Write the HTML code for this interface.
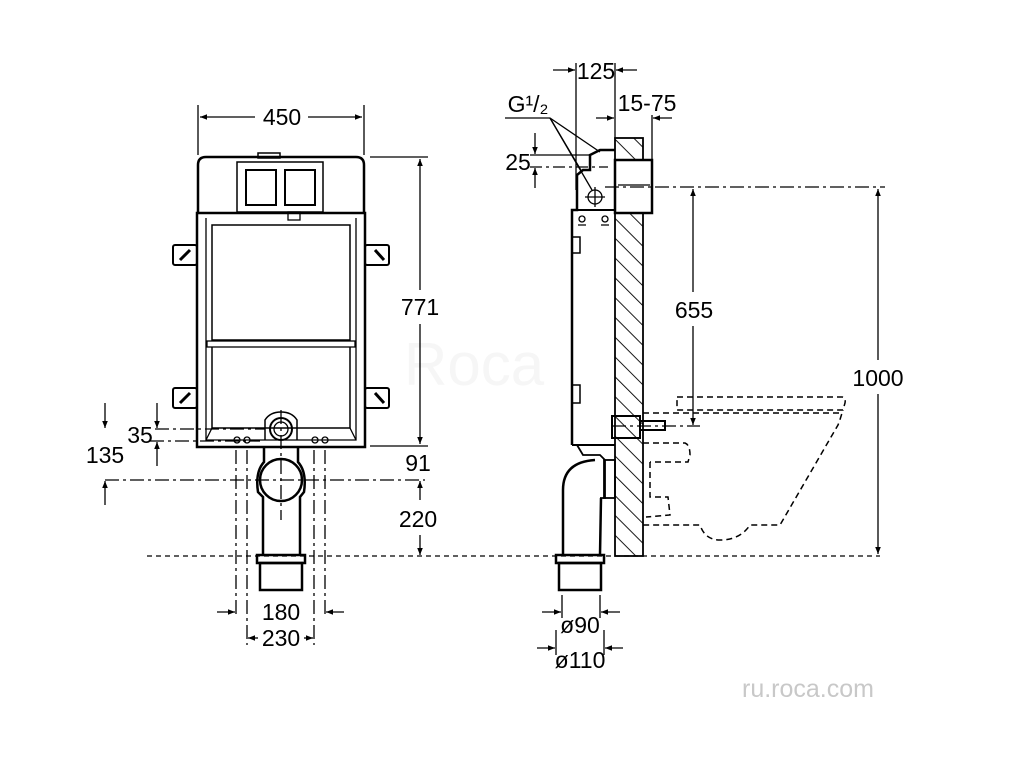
<!DOCTYPE html>
<html><head><meta charset="utf-8"><style>
html,body{margin:0;padding:0;background:#fff}
svg{display:block}
text{font-family:"Liberation Sans",sans-serif;font-size:23px;fill:#000}
</style></head><body>
<svg width="1024" height="768" viewBox="0 0 1024 768" xmlns="http://www.w3.org/2000/svg">
<defs>
<marker id="a" viewBox="0 0 10 10" refX="10" refY="5" markerWidth="10" markerHeight="7" orient="auto-start-reverse" markerUnits="userSpaceOnUse"><path d="M0,1 L10,5 L0,9 Z" fill="#000"/></marker>
<pattern id="h" width="14" height="14" patternUnits="userSpaceOnUse" patternTransform="rotate(-45)"><line x1="0" y1="0" x2="0" y2="14" stroke="#000" stroke-width="1.8"/></pattern>
</defs>
<text x="404" y="385" style="fill:#f6f6f6;font-size:60px">Roca</text>
<g fill="none" stroke="#000" stroke-width="1.3">
<!-- FRONT VIEW -->
<path d="M198,213 L198,165 Q198,157 206,157 L356,157 Q364,157 364,165 L364,213" stroke-width="2.5"/>
<rect x="258" y="153" width="22" height="5" stroke-width="1.5"/>
<rect x="237" y="162" width="86" height="50" stroke-width="1.5"/>
<rect x="246" y="170" width="30" height="35" stroke-width="2"/>
<rect x="285" y="170" width="30" height="35" stroke-width="2"/>
<path d="M197,213 L197,447 L365,447 L365,213 Z" stroke-width="2.5"/>
<path d="M206,218 L206,440 L356,440 L356,218" stroke-width="1.3"/>
<rect x="212" y="225" width="138" height="115" stroke-width="1.5"/>
<rect x="207" y="341" width="148" height="6"/>
<path d="M212,347 L212,428 L350,428 L350,347" stroke-width="1.5"/>
<path d="M206,440 L212,428 M356,440 L350,428"/>
<rect x="288" y="212" width="12" height="8"/>
<rect x="173" y="245" width="24" height="20" rx="2" stroke-width="2"/>
<rect x="365" y="245" width="24" height="20" rx="2" stroke-width="2"/>
<rect x="173" y="388" width="24" height="20" rx="2" stroke-width="2"/>
<rect x="365" y="388" width="24" height="20" rx="2" stroke-width="2"/>
<path d="M180,260 L190,250 M375,250 L384,260 M180,403 L190,393 M375,393 L384,403" stroke-width="3"/>
<circle cx="281" cy="429" r="11" stroke-width="2"/>
<circle cx="281" cy="429" r="7"/>
<path d="M265,440 L265,420 Q270,412 281,412 Q292,412 297,420 L297,440" stroke-width="1.5"/>
<circle cx="237" cy="440" r="3"/><circle cx="247" cy="440" r="3"/><circle cx="315" cy="440" r="3"/><circle cx="325" cy="440" r="3"/>
<circle cx="281" cy="480" r="21" stroke-width="2.5"/>
<path d="M264,448 L264,462 Q255,472 258,492 L263,497 L263,555 M298,448 L298,462 Q307,472 304,492 L300,497 L300,555" stroke-width="2.5"/>
<rect x="257" y="555" width="48" height="8" stroke-width="2.5"/>
<rect x="260" y="563" width="42" height="27" stroke-width="2.5"/>
<line x1="198" y1="105" x2="198" y2="155"/><line x1="364" y1="105" x2="364" y2="155"/>
<line x1="200" y1="117" x2="255" y2="117" marker-start="url(#a)"/><line x1="308" y1="117" x2="362" y2="117" marker-end="url(#a)"/>
<line x1="370" y1="157" x2="428" y2="157"/><line x1="370" y1="446" x2="428" y2="446"/>
<line x1="420" y1="290" x2="420" y2="159" marker-end="url(#a)"/><line x1="420" y1="324" x2="420" y2="444" marker-end="url(#a)"/>
<g stroke-dasharray="14,4,3,4">
<line x1="155" y1="429" x2="265" y2="429"/><line x1="150" y1="441" x2="260" y2="441"/>
<line x1="105" y1="480" x2="425" y2="480"/>
<line x1="236" y1="450" x2="236" y2="615"/><line x1="247" y1="450" x2="247" y2="645"/>
<line x1="314" y1="450" x2="314" y2="645"/><line x1="325" y1="450" x2="325" y2="615"/>
<line x1="281" y1="410" x2="281" y2="520"/>
</g>
<line x1="157" y1="403" x2="157" y2="428" marker-end="url(#a)"/><line x1="157" y1="466" x2="157" y2="442" marker-end="url(#a)"/>
<line x1="105" y1="403" x2="105" y2="428" marker-end="url(#a)"/><line x1="105" y1="505" x2="105" y2="481" marker-end="url(#a)"/>
<line x1="420" y1="500" x2="420" y2="481" marker-end="url(#a)"/><line x1="420" y1="535" x2="420" y2="555" marker-end="url(#a)"/>
<line x1="217" y1="612" x2="235" y2="612" marker-end="url(#a)"/><line x1="344" y1="612" x2="326" y2="612" marker-end="url(#a)"/>
<line x1="258" y1="638" x2="248" y2="638" marker-end="url(#a)"/><line x1="304" y1="638" x2="313" y2="638" marker-end="url(#a)"/>
<line x1="147" y1="556" x2="880" y2="556" stroke-dasharray="5,4"/>
<!-- SIDE VIEW -->
<rect x="615" y="138" width="28" height="418" fill="url(#h)" stroke-width="1.8"/>
<rect x="615" y="160" width="37" height="53" fill="#fff" stroke-width="2.5"/>
<line x1="618" y1="185" x2="650" y2="185"/>
<path d="M572,445 L572,210 L577,210 L577,175 L583,170 L590,170 L590,155 L600,150 L615,150" stroke-width="2.5"/>
<path d="M572,210 L615,210 M572,445 L615,445" stroke-width="2"/>
<circle cx="595" cy="197" r="7"/><line x1="585" y1="197" x2="605" y2="197"/><line x1="595" y1="187" x2="595" y2="207"/>
<circle cx="582" cy="219" r="3"/><circle cx="605" cy="219" r="3"/>
<path d="M578,225 L586,225 M601,225 L609,225"/>
<path d="M572,237 L580,237 L580,253 L572,253 M572,385 L580,385 L580,403 L572,403" stroke-width="1.5"/>
<rect x="612" y="416" width="28" height="22" stroke-width="2"/>
<path d="M640,421 L665,421 L665,430 L640,430" stroke-width="2"/>
<path d="M577,445 L583,455 L600,455 L605,460 L605,498 L600,498" stroke-width="1.8"/>
<rect x="604" y="460" width="11" height="38" stroke-width="1.8"/>
<path d="M563,555 L563,490 Q563,462 595,460 M601,498 L600,555" stroke-width="2.5"/>
<rect x="556" y="555" width="48" height="8" stroke-width="2.5"/>
<rect x="559" y="563" width="42" height="27" stroke-width="2.5"/>
<g stroke-dasharray="6,4" stroke-width="1.5">
<path d="M677,397 L842,397 Q846,397 845,403 L843,410 L677,410 Z"/>
<path d="M643,413 L842,413 Q840,420 838,425 L780,525 L750,525 Q740,540 720,540 Q705,540 700,525 L643,525"/>
<path d="M643,443 L685,443 Q690,445 690,455 L688,462 L650,462"/>
<path d="M650,462 L650,497 L668,497 L670,515 L646,517"/>
</g>
<line x1="576" y1="63" x2="576" y2="190"/><line x1="615" y1="63" x2="615" y2="140"/>
<line x1="553" y1="70" x2="575" y2="70" marker-end="url(#a)"/><line x1="637" y1="70" x2="616" y2="70" marker-end="url(#a)"/>
<line x1="596" y1="118" x2="614" y2="118" marker-end="url(#a)"/><line x1="672" y1="118" x2="653" y2="118" marker-end="url(#a)"/>
<line x1="652" y1="115" x2="652" y2="160"/>
<line x1="505" y1="118" x2="550" y2="118"/>
<line x1="550" y1="118" x2="600" y2="152"/><line x1="550" y1="118" x2="582" y2="172"/><line x1="550" y1="118" x2="592" y2="190"/>
<line x1="530" y1="155" x2="590" y2="155"/><line x1="530" y1="167" x2="608" y2="167" stroke-dasharray="12,4,3,4"/>
<line x1="535" y1="133" x2="535" y2="154" marker-end="url(#a)"/><line x1="535" y1="188" x2="535" y2="168" marker-end="url(#a)"/>
<line x1="605" y1="187" x2="885" y2="187" stroke-dasharray="14,4,3,4"/>
<line x1="612" y1="426" x2="700" y2="426" stroke-dasharray="14,4,3,4"/>
<line x1="693" y1="292" x2="693" y2="189" marker-end="url(#a)"/><line x1="693" y1="326" x2="693" y2="425" marker-end="url(#a)"/>
<line x1="878" y1="360" x2="878" y2="189" marker-end="url(#a)"/><line x1="878" y1="394" x2="878" y2="554" marker-end="url(#a)"/>
<line x1="562" y1="595" x2="562" y2="618"/><line x1="600" y1="595" x2="600" y2="618"/>
<line x1="556" y1="630" x2="556" y2="655"/><line x1="604" y1="630" x2="604" y2="655"/>
<line x1="542" y1="612" x2="561" y2="612" marker-end="url(#a)"/><line x1="620" y1="612" x2="601" y2="612" marker-end="url(#a)"/>
<line x1="537" y1="648" x2="555" y2="648" marker-end="url(#a)"/><line x1="623" y1="648" x2="605" y2="648" marker-end="url(#a)"/>
</g>
<g text-anchor="middle">
<text x="282" y="125">450</text>
<text x="420" y="315">771</text>
<text x="140" y="443">35</text>
<text x="105" y="463">135</text>
<text x="418" y="471">91</text>
<text x="418" y="527">220</text>
<text x="281" y="620">180</text>
<text x="281" y="646">230</text>
<text x="596" y="79">125</text>
<text x="647" y="111">15-75</text>
<text x="528" y="112">G¹/₂</text>
<text x="518" y="170">25</text>
<text x="694" y="318">655</text>
<text x="878" y="386">1000</text>
<text x="580" y="633">ø90</text>
<text x="580" y="668">ø110</text>
<text x="808" y="697" style="fill:#c8c8c8;font-size:25px">ru.roca.com</text>
</g>
</svg>
</body></html>
